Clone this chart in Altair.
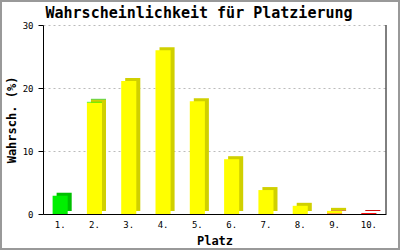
import altair as alt
import pandas as pd

places = ["1.", "2.", "3.", "4.", "5.", "6.", "7.", "8.", "9.", "10."]
segments = ["red", "yellow", "green"]
green = [2.9, 0.1, 0, 0, 0, 0, 0, 0, 0, 0]
yellow = [0, 17.7, 21.1, 26.0, 17.9, 8.7, 3.8, 1.3, 0.4, 0]
red = [0, 0, 0, 0, 0, 0, 0, 0, 0.1, 0.15]

rows = []
for seg, vals in zip(segments, [red, yellow, green]):
    for p, v in zip(places, vals):
        if v > 0:
            rows.append({"Platz": p, "seg": seg, "ord": segments.index(seg), "v": v})
df = pd.DataFrame(rows)
one = pd.DataFrame([{"k": 0}])

W, H = 343, 189
PL, PT, PR, PB = 43, 25, 14, 36
MONO = "DejaVu Sans Mono"

xenc = alt.X("Platz:N", sort=places,
             scale=alt.Scale(paddingInner=0.56, paddingOuter=0.28),
             axis=alt.Axis(title="Platz", labelAngle=0, ticks=False, domainColor="black",
                           labelFont=MONO, labelFontSize=9, labelColor="black", labelPadding=6,
                           titleFont=MONO, titleFontSize=12, titleFontWeight="bold",
                           titleColor="black", titlePadding=6))
yenc = alt.Y("v:Q", stack="zero", scale=alt.Scale(domain=[0, 30]),
             axis=alt.Axis(title="Wahrsch. (%)", values=[0, 10, 20, 30], grid=True,
                           gridColor="#bbbbbb", gridDash=[2, 3], domainColor="black",
                           tickColor="black", tickSize=5, labelFont=MONO, labelFontSize=9,
                           labelColor="black", labelPadding=5,
                           titleFont=MONO, titleFontSize=12, titleFontWeight="bold",
                           titleColor="black", titlePadding=4))

back = alt.Chart(df).mark_bar(xOffset=4, yOffset=-3).encode(
    x=xenc, y=yenc,
    color=alt.Color("seg:N", scale=alt.Scale(domain=segments, range=["#cc0000", "#d0d000", "#00c000"]), legend=None),
    order=alt.Order("ord:Q"),
)
front = alt.Chart(df).mark_bar().encode(
    x=alt.X("Platz:N", sort=places), y=alt.Y("v:Q", stack="zero"),
    color=alt.Color("seg:N", scale=alt.Scale(domain=segments, range=["#ff0000", "#ffff00", "#00f000"]), legend=None),
    order=alt.Order("ord:Q"),
)
right_rule = alt.Chart(one).mark_rule(color="black", strokeWidth=1).encode(
    x=alt.value(W), y=alt.value(0), y2=alt.value(H))
border = alt.Chart(one).mark_rect(fill="transparent", stroke="#999999", strokeWidth=2).encode(
    x=alt.value(-PL + 1), x2=alt.value(W + PR - 1), y=alt.value(-PT + 1), y2=alt.value(H + PB - 1))
title = alt.Chart(one).mark_text(font=MONO, fontSize=15, fontWeight="bold", color="black",
                                 align="center", baseline="middle",
                                 text="Wahrscheinlichkeit für Platzierung").encode(
    x=alt.value(199 - PL), y=alt.value(13 - PT))

chart = alt.layer(back, front, right_rule, border, title).resolve_scale(color="independent").properties(
    width=W, height=H, autosize=alt.AutoSizeParams(type="none"),
    padding={"left": PL, "top": PT, "right": PR, "bottom": PB},
    background="white",
).configure_view(strokeWidth=0)

chart.save("out.html", embed_options={"renderer": "svg", "actions": False})
